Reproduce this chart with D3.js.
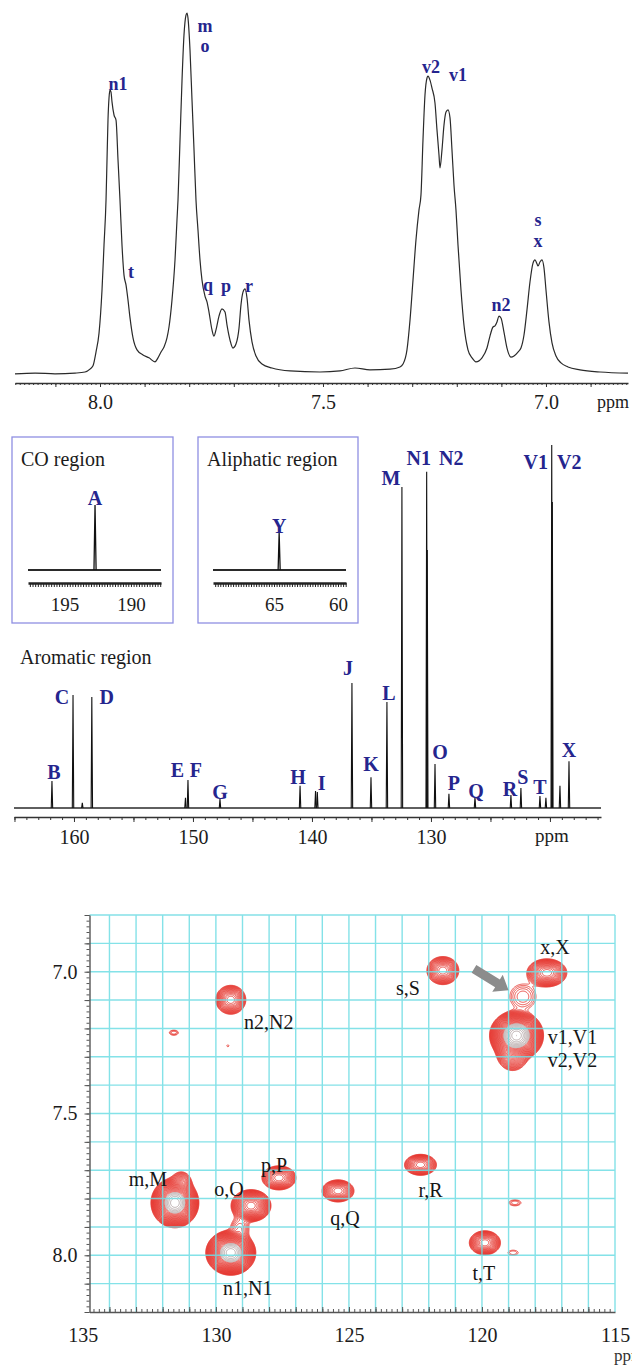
<!DOCTYPE html>
<html>
<head>
<meta charset="utf-8">
<script src="https://cdn.jsdelivr.net/npm/d3@7"></script>
<style>
  html, body { margin: 0; padding: 0; background: #ffffff; }
  svg { display: block; }
</style>
</head>
<body>
<svg id="fig" width="632" height="1365"></svg>
<script>
// ---------------- 1H spectrum: trace (ppm, relative intensity) ----------------
const hPpm = [8.1906, 8.1457, 8.1009, 8.0561, 8.0336, 8.0224, 8.0157, 8.0090, 8.0022, 7.9955,
  7.9910, 7.9865, 7.9843, 7.9821, 7.9798, 7.9776, 7.9753, 7.9731, 7.9686, 7.9641,
  7.9596, 7.9552, 7.9507, 7.9462, 7.9417, 7.9372, 7.9327, 7.9260, 7.9170, 7.9036,
  7.8901, 7.8767, 7.8700, 7.8632, 7.8565, 7.8498, 7.8453, 7.8386, 7.8318, 7.8274,
  7.8251, 7.8206, 7.8161, 7.8117, 7.8072, 7.8049, 7.8027, 7.7982, 7.7937, 7.7892,
  7.7848, 7.7803, 7.7758, 7.7713, 7.7646, 7.7601, 7.7556, 7.7489, 7.7444, 7.7399,
  7.7332, 7.7265, 7.7197, 7.7152, 7.7085, 7.7018, 7.6951, 7.6883, 7.6839, 7.6794,
  7.6749, 7.6704, 7.6659, 7.6592, 7.6502, 7.6368, 7.6143, 7.5740, 7.5067, 7.4619,
  7.4283, 7.3946, 7.3498, 7.3274, 7.3206, 7.3117, 7.3049, 7.2982, 7.2915, 7.2848,
  7.2803, 7.2758, 7.2713, 7.2668, 7.2646, 7.2601, 7.2556, 7.2489, 7.2444, 7.2399,
  7.2377, 7.2332, 7.2287, 7.2242, 7.2197, 7.2152, 7.2108, 7.2063, 7.2018, 7.1973,
  7.1906, 7.1839, 7.1749, 7.1659, 7.1570, 7.1435, 7.1323, 7.1256, 7.1188, 7.1143,
  7.1099, 7.1054, 7.1009, 7.0942, 7.0874, 7.0785, 7.0717, 7.0628, 7.0561, 7.0493,
  7.0426, 7.0359, 7.0291, 7.0247, 7.0202, 7.0179, 7.0135, 7.0090, 7.0045, 7.0000,
  6.9933, 6.9865, 6.9776, 6.9664, 6.9507, 6.9238, 6.8789, 6.8161];
const hInt = [0.6, 0.8, 0.6, 0.8, 1.1, 1.9, 2.8, 6.6, 11.8, 23.7,
  36.1, 48.5, 59.5, 70.5, 76.6, 78.8, 78.2, 75.5, 71.9, 70.5,
  59.5, 48.5, 36.1, 27.8, 25.1, 20.9, 16.0, 10.5, 7.2, 5.8,
  5.0, 3.9, 5.0, 6.6, 8.0, 10.5, 13.5, 20.9, 32.0, 43.0,
  48.5, 65.0, 81.5, 93.9, 99.4, 100, 98.6, 89.8, 76.0, 62.3,
  48.5, 40.2, 32.0, 26.4, 22.0, 20.4, 17.6, 12.7, 11.0, 12.7,
  16.5, 18.5, 17.6, 14.0, 9.9, 7.7, 8.8, 13.2, 19.6, 23.1,
  24.0, 21.5, 15.4, 9.4, 5.5, 3.3, 2.2, 1.4, 1.1, 1.4,
  2.2, 1.7, 1.9, 2.5, 3.3, 7.2, 15.4, 26.4, 37.5, 45.7,
  49.9, 65.0, 77.4, 82.1, 82.6, 81.5, 79.3, 75.2, 67.8, 60.9,
  57.3, 62.3, 69.1, 72.7, 73.3, 71.1, 62.3, 52.6, 45.7, 36.1,
  23.7, 14.0, 7.2, 5.0, 3.9, 5.0, 7.7, 11.0, 13.5, 13.8,
  14.9, 16.5, 16.0, 12.1, 7.7, 5.2, 5.5, 6.6, 7.7, 11.3,
  18.2, 25.9, 31.1, 32.0, 30.9, 30.3, 31.4, 32.0, 29.8, 23.7,
  14.9, 9.1, 5.5, 3.6, 2.5, 1.7, 1.1, 0.8];
const hPeakName = ["n1", "t", "m", "o", "q", "p", "r", "v2", "v1", "n2", "s", "x"];
const hPeakPpm  = [7.9776, 7.9417, 7.8049, 7.8049, 7.7601, 7.7265, 7.6749, 7.2646, 7.2197, 7.1054, 7.0247, 7.0090];
const hPeakInt  = [78.8, 25.1, 100, 100, 20.4, 18.5, 24.0, 82.6, 73.3, 16.5, 32.0, 32.0];
const hTickLabels = [8.0, 7.5, 7.0];

// ---------------- 13C spectrum: aromatic region ----------------
const cPpm = [161.85, 160.08, 159.30, 158.50, 150.63, 150.42, 147.73, 141.00, 139.70, 139.55,
  136.64, 135.04, 133.70, 132.44, 130.36, 130.31, 129.66, 128.49, 126.30, 123.28,
  122.44, 120.84, 120.34, 119.85, 119.80, 119.16, 118.40];
const cInt = [7.4, 31.1, 1.4, 30.6, 2.8, 7.7, 2.5, 6.1, 4.7, 4.4,
  34.4, 8.5, 29.2, 88.4, 92.6, 71.1, 12.1, 3.9, 3.0, 3.6,
  5.5, 3.3, 2.8, 100, 84.3, 6.1, 12.9];
const cName = ["B", "C", "", "D", "E", "F", "G", "H", "I", "",
  "J", "K", "L", "M", "N1", "N2", "O", "P", "Q", "R",
  "S", "T", "", "V1", "V2", "", "X"];
const cTickLabels = [160, 150, 140, 130];

// CO and aliphatic insets
const coPpm = [192.7], coInt = [100], coName = ["A"], coTicks = [195, 190];
const alPpm = [64.6],  alInt = [57],  alName = ["Y"], alTicks = [65, 60];

// ---------------- HSQC cross peaks (13C ppm, 1H ppm, widths in ppm, contour levels) ----------------
const hsqcC  = [131.54, 131.30, 128.68, 129.10, 129.44, 127.63, 125.41, 122.31, 119.89, 118.76,
  118.83, 121.47, 117.56, 129.44, 118.70, 118.85, 118.46, 131.58, 129.55];
const hsqcH  = [7.815, 7.745, 7.825, 7.905, 7.991, 7.727, 7.773, 7.681, 7.956, 7.815,
  7.991, 6.996, 7.004, 7.099, 7.225, 7.285, 7.088, 7.215, 7.261];
const hsqcWc = [1.80, 0.75, 1.50, 0.68, 1.88, 1.28, 1.20, 1.20, 1.17, 0.45,
  0.38, 1.20, 1.50, 1.13, 2.03, 1.20, 0.98, 0.34, 0.08];
const hsqcWh = [0.176, 0.078, 0.113, 0.078, 0.159, 0.085, 0.078, 0.074, 0.085, 0.021,
  0.018, 0.099, 0.099, 0.102, 0.176, 0.127, 0.088, 0.018, 0.007];
const hsqcLevels = [30, 10, 22, 6, 30, 16, 15, 15, 16, 3,
  2, 16, 18, 16, 32, 16, 5, 3, 1];
const hsqcLabel     = ["m,M", "o,O", "n1,N1", "p,P", "q,Q", "r,R", "t,T", "s,S", "x,X", "n2,N2", "v1,V1", "v2,V2"];
const hsqcLabelSpot = [0, 2, 4, 5, 6, 7, 8, 11, 12, 13, 14, 14];
const hsqcXTicks = [135, 130, 125, 120, 115];
const hsqcYTicks = [7.0, 7.5, 8.0];

// ---------------- drawing ----------------
const svg = d3.select("#fig");
const serif = "'Liberation Serif', 'Times New Roman', serif";
const navy = "#25258e";
const ink = "#1b1b1b";

svg.append("rect").attr("width", 632).attr("height", 1365).attr("fill", "#fff");

function styleAxis(g, opts) {
  g.select(".domain").attr("stroke", opts.domain === false ? "none" : opts.color).attr("stroke-width", opts.width || 1.2);
  g.selectAll(".tick line").attr("stroke", opts.color).attr("stroke-width", opts.tickWidth || 1);
  g.selectAll(".tick text").attr("font-family", serif).attr("font-size", opts.fontSize || 20).attr("fill", ink);
}
const rangeStep = (a, b, s) => d3.range(Math.round(a / s), Math.round(b / s) + 1).map(v => +(v * s).toFixed(4));

// ===== Panel 1: 1H =====
const x1 = d3.scaleLinear().domain([8.1906, 6.8161]).range([15, 628]);
const y1 = d3.scaleLinear().domain([0, 100]).range([376, 13]);
const p1 = svg.append("g");

const hPts = hPpm.map((p, i) => [x1(p), y1(hInt[i])]);
p1.append("path")
  .attr("d", d3.line().curve(d3.curveMonotoneX)(hPts))
  .attr("fill", "none").attr("stroke", "#2a2a2a").attr("stroke-width", 1.2);

const ax1 = p1.append("g").attr("transform", "translate(0,383)");
ax1.append("g").call(d3.axisBottom(x1).tickValues(rangeStep(6.82, 8.19, 0.01)).tickSize(2).tickSizeOuter(0).tickFormat(""))
  .call(g => styleAxis(g, { color: "#333", width: 1.3 }));
ax1.append("g").call(d3.axisBottom(x1).tickValues(rangeStep(6.9, 8.1, 0.1)).tickSize(4).tickSizeOuter(0).tickFormat(""))
  .call(g => styleAxis(g, { color: "#333", domain: false }));
ax1.append("g").call(d3.axisBottom(x1).tickValues(hTickLabels).tickSize(0).tickPadding(12).tickFormat(d3.format(".1f")))
  .call(g => styleAxis(g, { color: "#333", domain: false }));
p1.append("text").attr("x", 597).attr("y", 408).attr("font-family", serif).attr("font-size", 18).attr("fill", ink).text("ppm");

const hLabelOffset = { n1: [8, 0], t: [5, -7], m: [18, 19], o: [18, 39], q: [1, -11], p: [4, -17],
  r: [4, 3], v2: [3, -3], v1: [10, -29], n2: [2, -5], s: [3, -34], x: [-4, -13] };
p1.selectAll("text.hl").data(hPeakName).join("text").attr("class", "hl")
  .attr("x", (d, i) => x1(hPeakPpm[i]) + hLabelOffset[d][0])
  .attr("y", (d, i) => y1(hPeakInt[i]) + hLabelOffset[d][1])
  .attr("text-anchor", "middle").attr("font-family", serif).attr("font-weight", "bold")
  .attr("font-size", 18).attr("fill", navy).text(d => d);

// ===== Panel 2: 13C =====
const p2 = svg.append("g");

function inset(box, title, domain, range, ticks, ppm, ints, names, tickRange) {
  const g = p2.append("g");
  g.append("rect").attr("x", box[0]).attr("y", box[1]).attr("width", box[2]).attr("height", box[3])
    .attr("fill", "none").attr("stroke", "#8f8fe2").attr("stroke-width", 1.3);
  g.append("text").attr("x", box[0] + 9).attr("y", box[1] + 29).attr("font-family", serif)
    .attr("font-size", 20).attr("fill", ink).text(title);
  const xs = d3.scaleLinear().domain(domain).range(range);
  const ys = d3.scaleLinear().domain([0, 100]).range([570, 505]);
  g.append("line").attr("x1", range[0]).attr("x2", range[1]).attr("y1", ys(0)).attr("y2", ys(0))
    .attr("stroke", "#2a2a2a").attr("stroke-width", 2.2);
  ppm.forEach((p, i) => {
    g.append("path").attr("d", d3.line()([[xs(p + 0.08), ys(0)], [xs(p), ys(ints[i])], [xs(p - 0.08), ys(0)]]))
      .attr("fill", "none").attr("stroke", "#111").attr("stroke-width", 1.3);
    g.append("text").attr("x", xs(p)).attr("y", ys(ints[i])).attr("text-anchor", "middle")
      .attr("font-family", serif).attr("font-weight", "bold").attr("font-size", 20).attr("fill", navy).text(names[i]);
  });
  const ax = g.append("g").attr("transform", "translate(0,583)");
  ax.append("g").call(d3.axisBottom(xs).tickValues(rangeStep(tickRange[0], tickRange[1], 0.2)).tickSize(4).tickSizeOuter(0).tickFormat(""))
    .call(a => styleAxis(a, { color: "#222", width: 2.4 }));
  ax.append("g").call(d3.axisBottom(xs).tickValues(ticks).tickSize(0).tickPadding(15).tickFormat(d3.format("d")))
    .call(a => styleAxis(a, { color: "#222", domain: false, fontSize: 19 }));
}
inset([12, 437, 161, 186], "CO region", [197.74, 187.74], [28, 161], coTicks, coPpm, coInt, coName, [187.8, 197.6]);
inset([198, 437, 160, 186], "Aliphatic region", [69.77, 59.375], [213, 346], alTicks, alPpm, alInt, alName, [59.4, 69.6]);

p2.append("text").attr("x", 20).attr("y", 664).attr("font-family", serif).attr("font-size", 20).attr("fill", ink).text("Aromatic region");

const x2 = d3.scaleLinear().domain([165.04, 115.71]).range([14, 601]);
const y2 = d3.scaleLinear().domain([0, 100]).range([808, 445]);
p2.append("line").attr("x1", x2.range()[0]).attr("x2", x2.range()[1]).attr("y1", y2(0)).attr("y2", y2(0))
  .attr("stroke", "#2a2a2a").attr("stroke-width", 1.5);
p2.selectAll("path.cpk").data(cPpm).join("path").attr("class", "cpk")
  .attr("d", (p, i) => d3.line()([[x2(p + 0.06), y2(0)], [x2(p), y2(cInt[i])], [x2(p - 0.06), y2(0)]]))
  .attr("fill", "none").attr("stroke", "#111").attr("stroke-width", 1.1);

const cLabelOffset = { B: [2, -2], C: [-11, 9], D: [15, 7], E: [-8, -21], F: [8, -3], G: [0, 0], H: [-2, -2],
  I: [6, -1], J: [-4, -8], K: [0, -6], L: [2, -2], M: [-11, -2], N1: [-8, -7], N2: [24, -85], O: [5, -5],
  P: [5, -4], Q: [1, 1], R: [-1, 1], S: [2, -4], T: [0, -2], V1: [-16, 24], V2: [17, -33], X: [0, -4] };
const cLab = cName.map((n, i) => ({ n, i })).filter(d => d.n);
p2.selectAll("text.cl").data(cLab).join("text").attr("class", "cl")
  .attr("x", d => x2(cPpm[d.i]) + cLabelOffset[d.n][0])
  .attr("y", d => y2(cInt[d.i]) + cLabelOffset[d.n][1])
  .attr("text-anchor", "middle").attr("font-family", serif).attr("font-weight", "bold")
  .attr("font-size", 20).attr("fill", navy).text(d => d.n);

const ax2 = p2.append("g").attr("transform", "translate(0,817)");
ax2.append("g").call(d3.axisBottom(x2).tickValues(d3.range(116, 166)).tickSize(3).tickSizeOuter(0).tickFormat(""))
  .call(g => styleAxis(g, { color: "#333", width: 1.6 }));
ax2.append("g").call(d3.axisBottom(x2).tickValues(d3.range(120, 166, 5)).tickSize(5).tickSizeOuter(0).tickFormat(""))
  .call(g => styleAxis(g, { color: "#333", domain: false }));
ax2.append("g").call(d3.axisBottom(x2).tickValues(cTickLabels).tickSize(0).tickPadding(13).tickFormat(d3.format("d")))
  .call(g => styleAxis(g, { color: "#333", domain: false }));
p2.append("text").attr("x", 552).attr("y", 842).attr("text-anchor", "middle").attr("font-family", serif)
  .attr("font-size", 19).attr("fill", ink).text("ppm");

// ===== Panel 3: HSQC =====
const x3 = d3.scaleLinear().domain([134.75, 115]).range([89.5, 615]);
const y3 = d3.scaleLinear().domain([6.8, 8.2]).range([915, 1312]);
const p3 = svg.append("g");

// contour map: each cross peak is a 2D Gaussian whose outermost contour spans (wc, wh);
// contour levels are geometric, so the level count sets the peak height.
const q = 1.22, T0 = 1;
const X0 = Math.floor(x3(134.75)), Y0 = Math.floor(y3(6.8));
const NX = Math.ceil(x3(115)) - X0, NY = Math.ceil(y3(8.2)) - Y0;
const field = new Float64Array(NX * NY);
hsqcC.forEach((c, i) => {
  const n = hsqcLevels[i];
  const A = T0 * Math.pow(q, n) * 1.0001;
  const rx = Math.abs(x3(c - hsqcWc[i] / 2) - x3(c));
  const ry = Math.abs(y3(hsqcH[i] + hsqcWh[i] / 2) - y3(hsqcH[i]));
  const k = Math.sqrt(2 * Math.log(A / T0));
  const sx = Math.max(rx, 0.8) / k, sy = Math.max(ry, 0.8) / k;
  const cx = x3(c) - X0, cy = y3(hsqcH[i]) - Y0;
  const i0 = Math.max(0, Math.floor(cx - 5 * sx)), i1 = Math.min(NX - 1, Math.ceil(cx + 5 * sx));
  const j0 = Math.max(0, Math.floor(cy - 5 * sy)), j1 = Math.min(NY - 1, Math.ceil(cy + 5 * sy));
  for (let j = j0; j <= j1; j++) {
    const dy = (j + 0.5 - cy) / sy;
    for (let ii = i0; ii <= i1; ii++) {
      const dx = (ii + 0.5 - cx) / sx;
      field[j * NX + ii] += A * Math.exp(-0.5 * (dx * dx + dy * dy));
    }
  }
});
const nLev = 34;
const thresholds = d3.range(nLev).map(k => T0 * Math.pow(q, k));
const contours = d3.contours().size([NX, NY]).thresholds(thresholds)(Array.from(field));
p3.append("g").attr("transform", `translate(${X0},${Y0})`)
  .selectAll("path").data(contours).join("path")
  .attr("d", d3.geoPath())
  .attr("fill", "none")
  .attr("stroke", (d, k) => k >= 25 ? "#a99a9a" : "#e3261f")
  .attr("stroke-width", 0.9)
  .attr("stroke-opacity", 0.88);

// grid drawn over the contours
const gGrid = p3.append("g").attr("stroke", "#6fdde4").attr("stroke-width", 1.4).attr("opacity", 0.85);
gGrid.selectAll("line.v").data(d3.range(115, 135)).join("line").attr("class", "v")
  .attr("x1", d => x3(d)).attr("x2", d => x3(d)).attr("y1", y3(6.8)).attr("y2", y3(8.2));
gGrid.selectAll("line.h").data(rangeStep(6.8, 8.1, 0.1)).join("line").attr("class", "h")
  .attr("x1", x3(134.75)).attr("x2", x3(115)).attr("y1", d => y3(d)).attr("y2", d => y3(d));

// axes
const axB = p3.append("g").attr("transform", `translate(0,${y3(8.2)})`);
axB.append("g").call(d3.axisBottom(x3).tickValues(rangeStep(115.2, 134.6, 0.2)).tickSize(-3).tickSizeOuter(0).tickFormat(""))
  .call(g => styleAxis(g, { color: "#555", width: 1.4 }));
axB.append("g").call(d3.axisBottom(x3).tickValues(d3.range(116, 135)).tickSize(-5).tickSizeOuter(0).tickFormat(""))
  .call(g => styleAxis(g, { color: "#555", domain: false }));
axB.append("g").call(d3.axisBottom(x3).tickValues(hsqcXTicks).tickSize(0).tickPadding(16).tickFormat(d3.format("d")))
  .call(g => styleAxis(g, { color: "#555", domain: false }));

const axL = p3.append("g").attr("transform", `translate(${x3(134.75)},0)`);
axL.append("g").call(d3.axisLeft(y3).tickValues(rangeStep(6.8, 8.2, 0.02)).tickSize(3).tickSizeOuter(0).tickFormat(""))
  .call(g => styleAxis(g, { color: "#555", width: 1.4 }));
axL.append("g").call(d3.axisLeft(y3).tickValues(rangeStep(6.8, 8.2, 0.1)).tickSize(5).tickSizeOuter(0).tickFormat(""))
  .call(g => styleAxis(g, { color: "#555", domain: false }));
axL.append("g").call(d3.axisLeft(y3).tickValues(hsqcYTicks).tickSize(0).tickPadding(12).tickFormat(d3.format(".1f")))
  .call(g => styleAxis(g, { color: "#555", domain: false }));
p3.append("text").attr("x", 614).attr("y", 1361).attr("font-family", serif).attr("font-size", 17).attr("fill", "#333").text("ppm");

// grey arrow pointing at the weak cross peak
(function () {
  const a = [x3(120.3), y3(6.99)], b = [x3(119.0), y3(7.065)];
  const dx = b[0] - a[0], dy = b[1] - a[1], L = Math.hypot(dx, dy);
  const ux = dx / L, uy = dy / L, nx = -uy, ny = ux;
  const shaft = 4.5, head = 10, headLen = 13;
  const P = (t, s) => [a[0] + ux * t + nx * s, a[1] + uy * t + ny * s];
  const pts = [P(0, -shaft), P(L - headLen, -shaft), P(L - headLen, -head), P(L, 0), P(L - headLen, head), P(L - headLen, shaft), P(0, shaft)];
  p3.append("polygon").attr("points", pts.map(p => p.join(",")).join(" ")).attr("fill", "#8c8c8c");
})();

// cross-peak labels
const hsqcLabelOffset = { "m,M": [-27, -17], "o,O": [-22, -10], "n1,N1": [17, 42], "p,P": [-5, -6],
  "q,Q": [7, 34], "r,R": [10, 32], "t,T": [-1, 37], "s,S": [-35, 24], "x,X": [8, -19],
  "n2,N2": [38, 29], "v1,V1": [56, 8], "v2,V2": [56, 31] };
p3.selectAll("text.sl").data(hsqcLabel).join("text").attr("class", "sl")
  .attr("x", (d, i) => x3(hsqcC[hsqcLabelSpot[i]]) + hsqcLabelOffset[d][0])
  .attr("y", (d, i) => y3(hsqcH[hsqcLabelSpot[i]]) + hsqcLabelOffset[d][1])
  .attr("text-anchor", "middle").attr("font-family", serif).attr("font-size", 20).attr("fill", "#151515").text(d => d);
</script>
</body>
</html>
